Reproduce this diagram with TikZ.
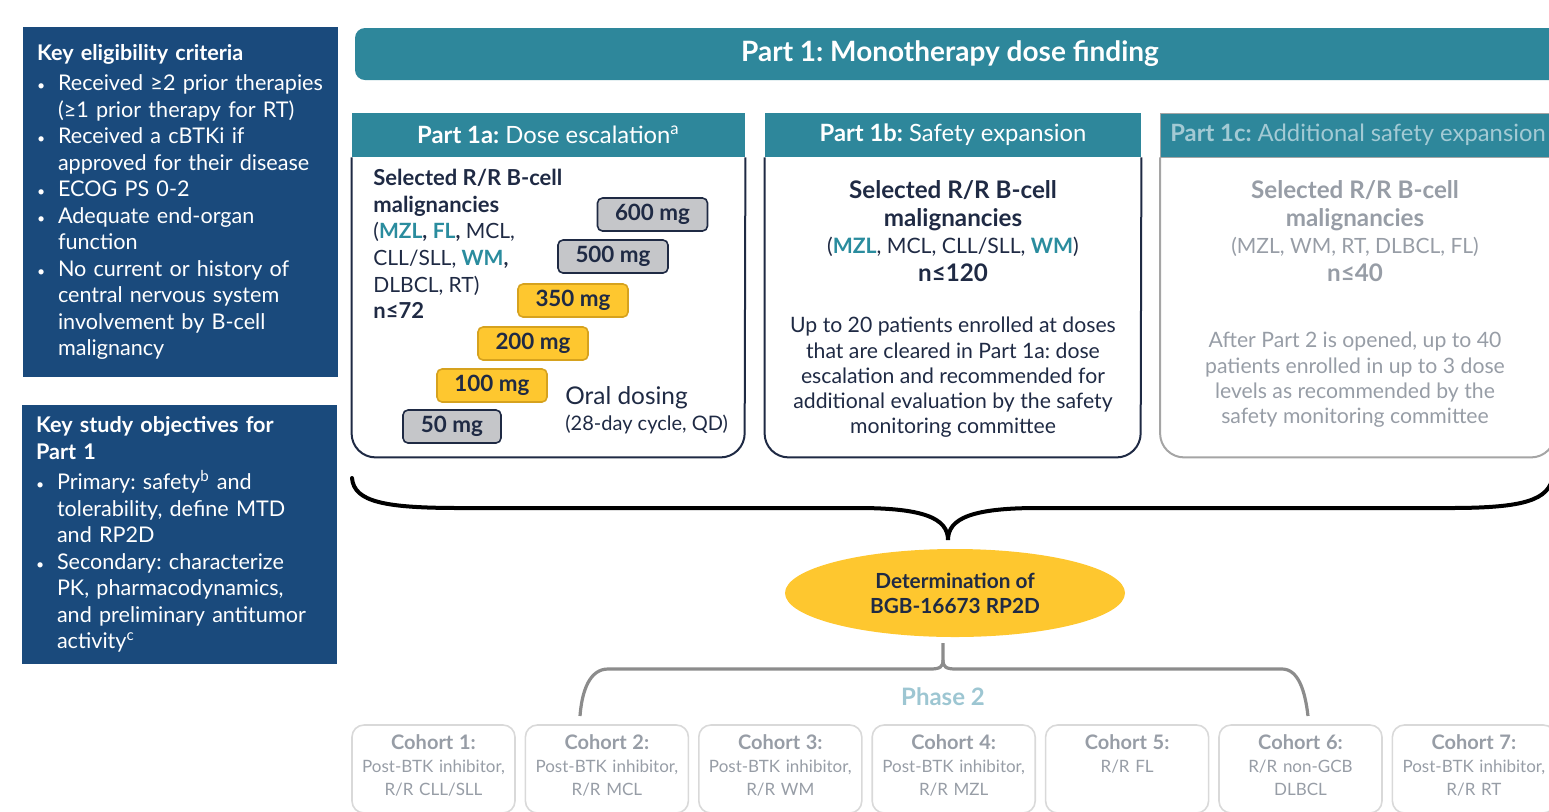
\documentclass[tikz,border=0pt]{standalone}
\usepackage{fontspec}
\setmainfont{Lato}
\usepackage{enumitem}
\usetikzlibrary{positioning,shapes.geometric}
\definecolor{Navy}{HTML}{1A4A7C}
\definecolor{Teal}{HTML}{2E879B}
\definecolor{TealTxt}{HTML}{2A8C9E}
\definecolor{Ink}{HTML}{1F2A44}
\definecolor{Gold}{HTML}{FEC72F}
\definecolor{GoldLine}{HTML}{D6A21E}
\definecolor{Stone}{HTML}{C5C6C9}
\definecolor{Faded}{HTML}{979DA6}
\definecolor{FadedHead}{HTML}{A3CAD4}
\definecolor{Frame}{HTML}{A5A5A5}
\definecolor{Pale}{HTML}{D9D9D9}
\definecolor{Phase}{HTML}{9DC6D2}
\definecolor{BraceGrey}{HTML}{8C8C8C}
\setlist[itemize]{leftmargin=10.5pt,labelindent=0pt,labelwidth=5pt,labelsep=5.5pt,align=left,itemsep=0pt,parsep=0pt,topsep=2pt,
  label={\scriptsize\textbullet},before=\raggedright}
\frenchspacing

\begin{document}
\begin{tikzpicture}[x=0.5pt,y=-0.5pt,node distance=4.4pt,
    panel/.style={fill=Navy,text=white,text width=143.5pt,inner xsep=7pt,minimum width=157.5pt,align=left,font=\fontsize{10.8}{13.25}\selectfont},
    head/.style={fill=Teal,text=white,minimum height=22pt,inner sep=0pt,font=\fontsize{11.9}{13}\selectfont},
    body/.style={line width=1pt,draw=Ink,rounded corners=12pt},
    dose/.style={draw=Ink,fill=Stone,line width=0.8pt,rounded corners=2.5pt,minimum width=55pt,minimum height=16.5pt,inner sep=0pt,text=Ink,font=\bfseries\fontsize{11.2}{12}\selectfont},
    gold/.style={dose,fill=Gold,draw=GoldLine},
    cohort/.style={draw=Pale,line width=0.8pt,rounded corners=6pt,minimum width=81.5pt,minimum height=44pt,text width=79pt,inner xsep=1.25pt,align=center,text=Faded,font=\fontsize{8.5}{11.5}\selectfont}]
  \useasboundingbox (0,0) rectangle (1549,811);

  \node[panel,minimum height=175pt] (elig) at (180.5,202) {\textbf{Key eligibility criteria}
    \begin{itemize}
      \item \mbox{Received ≥2 prior therapies}\newline (≥1 prior therapy for RT)
      \item Received a cBTKi if\newline \mbox{approved for their disease}
      \item ECOG PS 0-2
      \item Adequate end-organ\newline function
      \item No current or history of\newline central nervous system\newline involvement by B-cell\newline malignancy
    \end{itemize}};
  \node[panel,minimum height=129.5pt] (obj) at (179.5,534.5) {\textbf{Key study objectives for\\Part 1}
    \begin{itemize}
      \item Primary: safety\textsuperscript{b} and\newline tolerability, define MTD\newline and RP2D
      \item Secondary: characterize\newline PK, pharmacodynamics,\newline \mbox{and preliminary antitumor}\newline activity\textsuperscript{c}
    \end{itemize}};

  \fill[Teal,rounded corners=5pt] (355,28) rectangle (1580,80);
  \node[text=white,font=\bfseries\fontsize{14}{16}\selectfont] (part1) at (950,54) {Part 1: Monotherapy dose finding};

  \node[head,minimum width=196.5pt] (h1a) at (548.5,135) {\textbf{Part 1a:} Dose escalation\textsuperscript{a}};
  \node[head,minimum width=188pt] (h1b) at (953,135) {\textbf{Part 1b:} Safety expansion};
  \node[head,minimum width=197.5pt,draw=Frame,text=FadedHead] (h1c) at (1358,135) {\textbf{Part 1c:} Additional safety expansion};
  \draw[body] (h1a.south west) -- ++(0,300) -- ++(393,0) -- (h1a.south east);
  \draw[body] (h1b.south west) -- ++(0,300) -- ++(376,0) -- (h1b.south east);
  \draw[body,draw=Frame] (h1c.south west) -- ++(0,300) -- ++(395,0) -- (h1c.south east);

  \node[anchor=north west,align=left,inner sep=0pt,text=Ink,font=\fontsize{10.5}{13.3}\selectfont] (a1txt) at (373,169)
    {{\fontsize{11}{13.3}\selectfont\textbf{Selected R/R B-cell}}\\{\fontsize{11}{13.3}\selectfont\textbf{malignancies}}\\(\textbf{\color{TealTxt}MZL}\textbf{,} \textbf{\color{TealTxt}FL}\textbf{,} MCL,\\CLL/SLL, \textbf{\color{TealTxt}WM}\textbf{,}\\DLBCL, RT)\\{\fontsize{11}{13.3}\selectfont\textbf{n≤72}}};
  \node[dose] (d600) at (652.5,214.5) {600 mg};
  \node[dose] (d500) at (613,256.5) {500 mg};
  \node[gold] (d350) at (573,300.5) {350 mg};
  \node[gold] (d200) at (533,343.5) {200 mg};
  \node[gold] (d100) at (492,385.5) {100 mg};
  \node[dose,minimum width=49pt] (d50) at (452,426.5) {50 mg};
  \node[anchor=west,align=left,inner sep=0pt,text=Ink,font=\fontsize{10}{13}\selectfont] (oral) at (565,410)
    {{\fontsize{12.2}{13}\selectfont Oral dosing}\\(28-day cycle, QD)};

  \node[align=center,text=Ink,font=\fontsize{10.6}{13.75}\selectfont] (b1txt) at (953,231)
    {{\fontsize{12.1}{13.75}\selectfont\textbf{Selected R/R B-cell}}\\{\fontsize{12.1}{13.75}\selectfont\textbf{malignancies}}\\(\textbf{\color{TealTxt}MZL}, MCL, CLL/SLL, \textbf{\color{TealTxt}WM})\\{\fontsize{12.1}{13.75}\selectfont\textbf{n≤120}}};
  \node[align=center,text=Ink,font=\fontsize{10.6}{12.65}\selectfont] (b1note) at (953,377.5)
    {Up to 20 patients enrolled at doses\\that are cleared in Part 1a: dose\\escalation and recommended for\\additional evaluation by the safety\\monitoring committee};

  \node[align=center,text=Faded,font=\fontsize{10.5}{13.75}\selectfont] (c1txt) at (1355,231)
    {{\fontsize{12.1}{13.75}\selectfont\textbf{Selected R/R B-cell}}\\{\fontsize{12.1}{13.75}\selectfont\textbf{malignancies}}\\(MZL, WM, RT, DLBCL, FL)\\{\fontsize{12.1}{13.75}\selectfont\textbf{n≤40}}};
  \node[align=center,text=Faded,font=\fontsize{10.6}{12.65}\selectfont] (c1note) at (1355,380)
    {After Part 2 is opened, up to 40\\patients enrolled in up to 3 dose\\levels as recommended by the\\safety monitoring committee};

  \coordinate (btip) at (948,540);
  \draw[line width=2pt,line cap=round] (352,478) .. controls (354,502) and (385,508) .. (460,508) -- (858,508)
    .. controls (923,508) and (948,518) .. (btip) .. controls (948,518) and (973,508) .. (1038,508) -- (1450,508)
    .. controls (1525,508) and (1549,500) .. (1553,476);

  \node[ellipse,fill=Gold,minimum width=170pt,minimum height=44pt,align=center,text=Ink,font=\bfseries\fontsize{10.4}{12.5}\selectfont] (rp2d) at (955,593)
    {Determination of\\BGB-16673 RP2D};

  \coordinate (stem) at (943,643);
  \draw[BraceGrey,line width=1.6pt] (stem) -- (943,660) .. controls (943,667) and (940,669) .. (930,669) -- (608,669)
    .. controls (590,669) and (582,690) .. (580,716);
  \draw[BraceGrey,line width=1.6pt] (943,660) .. controls (943,667) and (946,669) .. (956,669) -- (1282,669)
    .. controls (1298,669) and (1305,690) .. (1308,716);
  \node[text=Phase,font=\bfseries\fontsize{12}{14}\selectfont] (ph2) at (943,697) {Phase 2};

  \node[cohort] (k1) at (433.5,769) {\textbf{\fontsize{10}{11.5}\selectfont Cohort 1:}\\Post-BTK inhibitor,\\R/R CLL/SLL\strut};
  \node[cohort,right=of k1] (k2) {\textbf{\fontsize{10}{11.5}\selectfont Cohort 2:}\\Post-BTK inhibitor,\\R/R MCL\strut};
  \node[cohort,right=of k2] (k3) {\textbf{\fontsize{10}{11.5}\selectfont Cohort 3:}\\Post-BTK inhibitor,\\R/R WM\strut};
  \node[cohort,right=of k3] (k4) {\textbf{\fontsize{10}{11.5}\selectfont Cohort 4:}\\Post-BTK inhibitor,\\R/R MZL\strut};
  \node[cohort,right=of k4] (k5) {\textbf{\fontsize{10}{11.5}\selectfont Cohort 5:}\\R/R FL\\\strut};
  \node[cohort,right=of k5] (k6) {\textbf{\fontsize{10}{11.5}\selectfont Cohort 6:}\\R/R non-GCB\\DLBCL\strut};
  \node[cohort,right=of k6] (k7) {\textbf{\fontsize{10}{11.5}\selectfont Cohort 7:}\\Post-BTK inhibitor,\\R/R RT\strut};
\end{tikzpicture}
\end{document}
